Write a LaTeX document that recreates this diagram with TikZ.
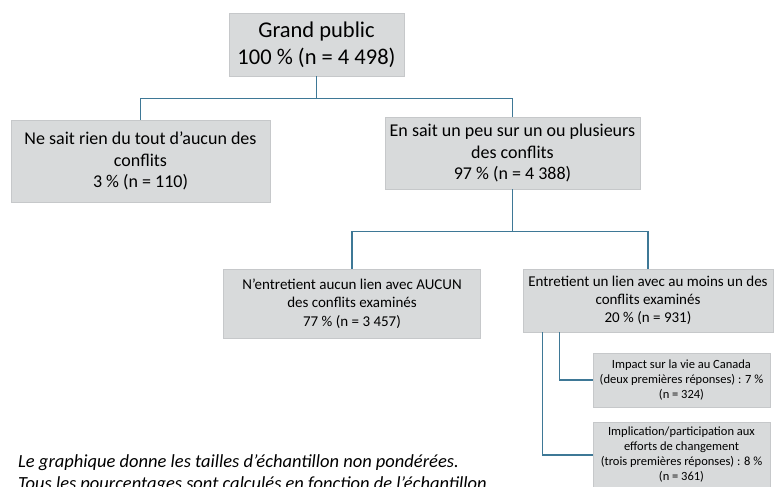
\documentclass[tikz,border=0pt]{standalone}
\usepackage{fontspec}
\setmainfont{Carlito}
\usepackage{tikz}

\definecolor{boxgrey}{RGB}{216,218,219}
\definecolor{boxedge}{RGB}{198,200,202}
\definecolor{linkblue}{RGB}{62,120,150}

\begin{document}
\begin{tikzpicture}[x=1pt,y=-1pt,
    box/.style={fill=boxgrey,draw=boxedge,line width=.6pt,align=center,inner sep=2pt},
    link/.style={draw=linkblue,line width=1.3pt}]
    \useasboundingbox (0,0) rectangle (774,487);
    \clip (0,0) rectangle (774,487);
    \node[box,minimum width=175pt,minimum height=63pt,font=\fontsize{22.5}{27}\selectfont]
       (gp) at (316.5,44.5) {Grand public\\100 \% (n = 4 498)};
    \node[box,minimum width=259pt,minimum height=82pt,font=\fontsize{18}{21.5}\selectfont]
       (rien) at (140.5,161) {Ne sait rien du tout d’aucun des\\conflits\\3 \% (n = 110)};
    \node[box,minimum width=255pt,minimum height=72pt,font=\fontsize{18}{21.5}\selectfont]
       (peu) at (512.5,153) {En sait un peu sur un ou plusieurs\\des conflits\\97 \% (n = 4 388)};
    \node[box,minimum width=257pt,minimum height=69pt,font=\fontsize{15}{18.3}\selectfont]
       (aucun) at (352,303.5) {N’entretient aucun lien avec AUCUN\\des conflits examinés\\77 \% (n = 3 457)};
    \node[box,minimum width=250pt,minimum height=63pt,font=\fontsize{15}{18.3}\selectfont]
       (lien) at (648,300.5) {Entretient un lien avec au moins un des\\conflits examinés\\20 \% (n = 931)};
    \node[box,minimum width=177pt,minimum height=54pt,font=\fontsize{12.5}{15}\selectfont]
       (impact) at (681.5,380) {Impact sur la vie au Canada\\(deux premières réponses) : 7 \%\\(n = 324)};
    \node[box,minimum width=177pt,minimum height=66pt,font=\fontsize{12.5}{15}\selectfont]
       (implic) at (681.5,455) {Implication/participation  aux\\efforts de changement\\(trois premières réponses) : 8 \%\\(n = 361)};
    % connectors
    \draw[link] (gp.south) -- ++(0,22) -| (rien.north);
    \draw[link] (gp.south) ++(0,22) -| (peu.north);
    \draw[link] (peu.south) -- ++(0,42) -| (aucun.north);
    \draw[link] (peu.south) ++(0,42) -| (lien.north);
    \draw[link] ([xshift=37pt]lien.south west) |- (impact.west);
    \draw[link] ([xshift=20pt]lien.south west) |- (implic.west);
    % note
    \node[anchor=base west,align=left,inner sep=0pt,font=\itshape\fontsize{18.5}{22}\selectfont]
       (note) at (18,489) {Le graphique donne les tailles d’échantillon non pondérées.\\Tous les pourcentages sont calculés en fonction de l’échantillon};
\end{tikzpicture}
\end{document}
